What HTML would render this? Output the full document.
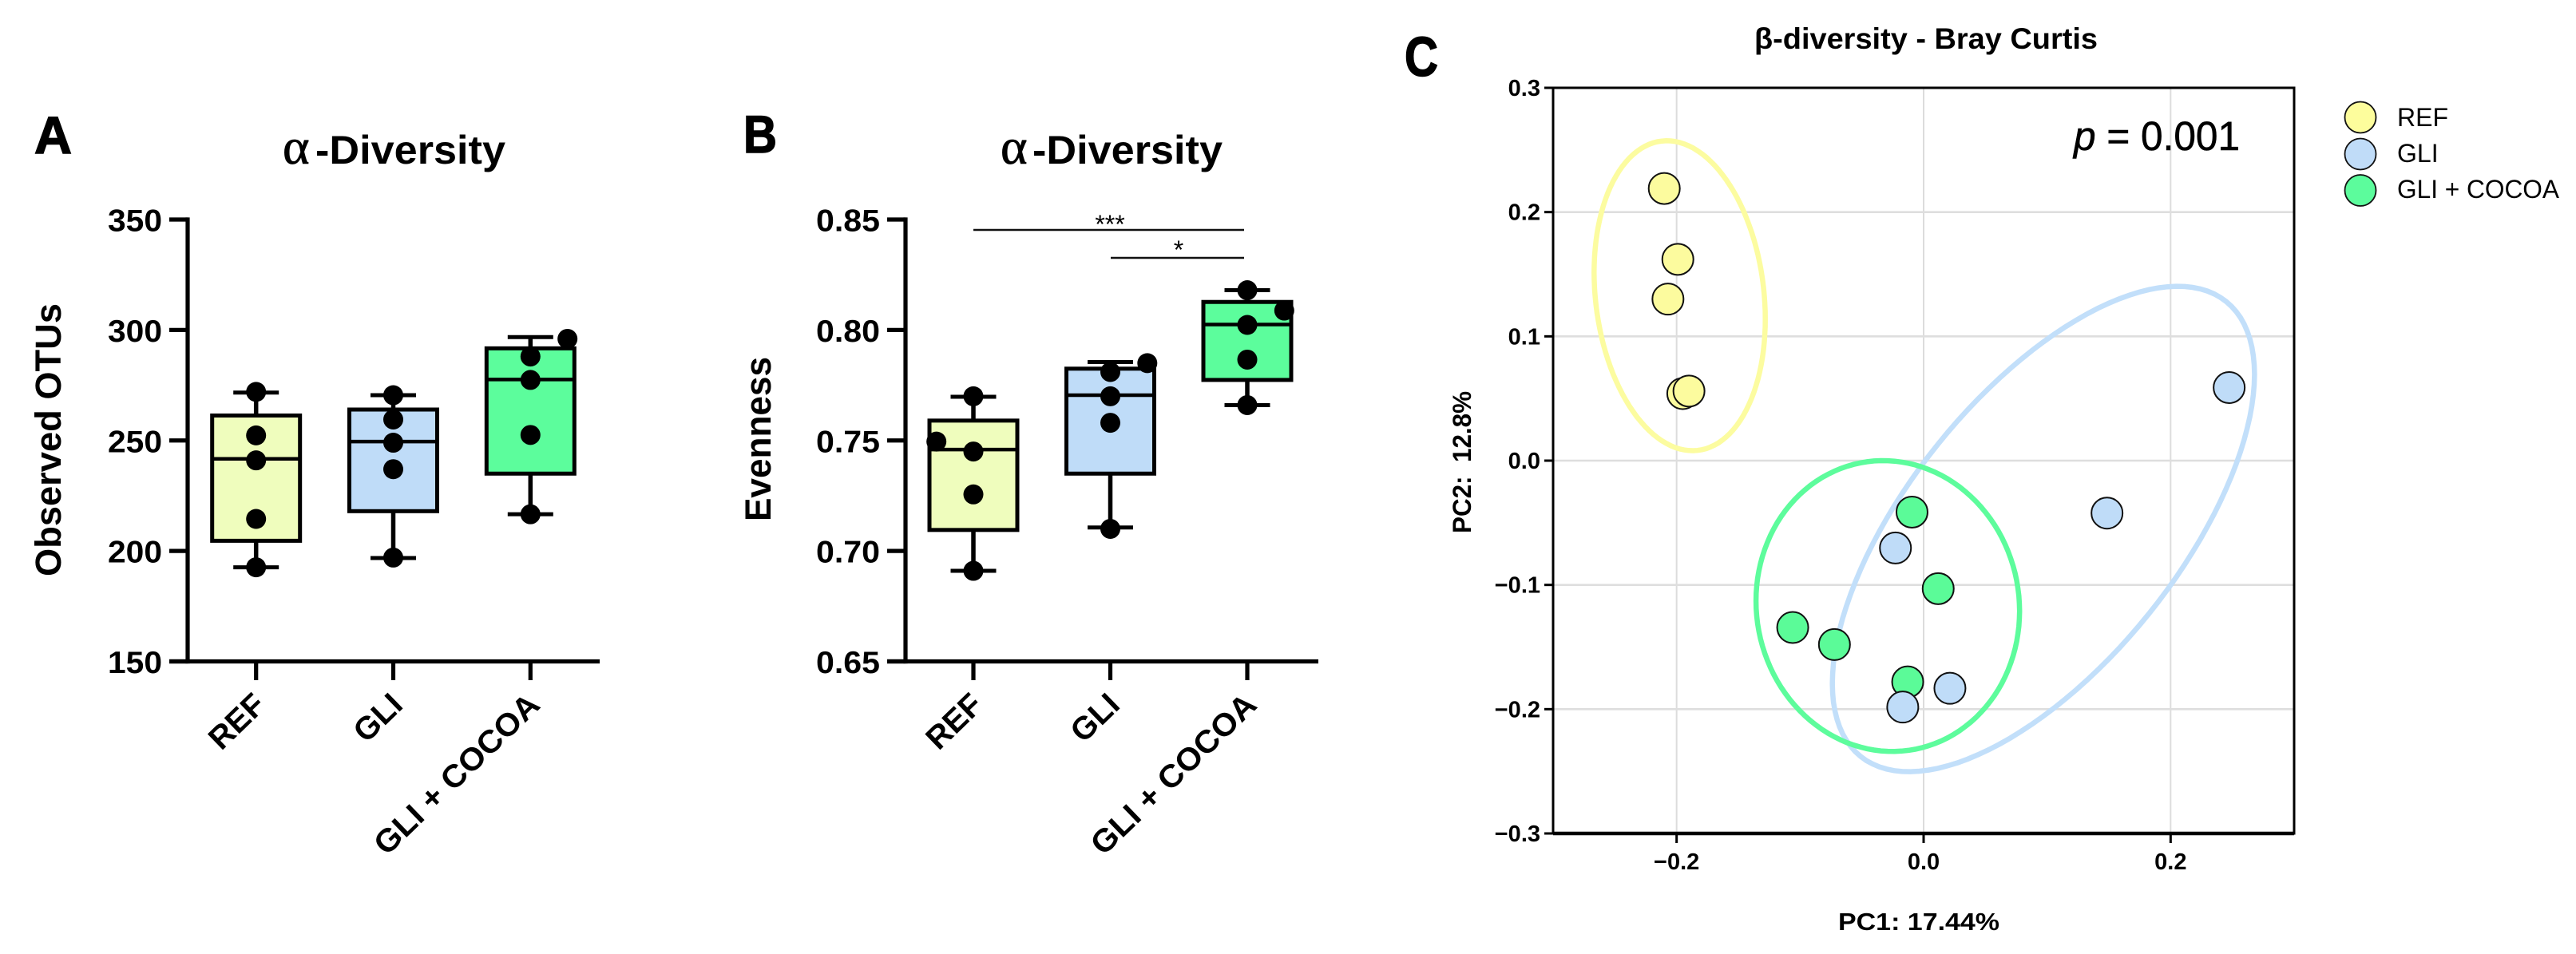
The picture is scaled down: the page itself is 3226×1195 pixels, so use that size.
<!DOCTYPE html>
<html lang="en">
<head>
<meta charset="utf-8">
<title>Alpha and beta diversity</title>
<style>
html,body{margin:0;padding:0;background:#fff;width:3226px;height:1195px;overflow:hidden}
svg{display:block;font-family:"Liberation Sans",sans-serif}
</style>
</head>
<body>
<svg id="figure" xmlns="http://www.w3.org/2000/svg" width="3226" height="1195" viewBox="0 0 3226 1195">
  <rect width="3226" height="1195" fill="#fff"/>

  <text x="43" y="192" font-size="66" font-weight="700" stroke="#000" stroke-width="1.5" textLength="47" lengthAdjust="spacingAndGlyphs">A</text>
  <text x="931" y="191" font-size="66" font-weight="700" stroke="#000" stroke-width="1.5" textLength="42" lengthAdjust="spacingAndGlyphs">B</text>
  <text x="1759" y="95" font-size="70" font-weight="700" stroke="#000" stroke-width="1.5" textLength="42" lengthAdjust="spacingAndGlyphs">C</text>

  <g>
    <text x="354" y="205" font-family="'Liberation Serif',serif" font-size="64" stroke="#000" stroke-width="0.8">α</text>
    <text x="395" y="205" font-size="50" font-weight="700" textLength="238" lengthAdjust="spacingAndGlyphs">-Diversity</text>
    <text transform="translate(76,722) rotate(-90)" font-size="45" font-weight="700" textLength="342" lengthAdjust="spacingAndGlyphs">Observed OTUs</text>
    <g id="panel-a-marks"></g>
  </g>

  <g>
    <text x="1253" y="205" font-family="'Liberation Serif',serif" font-size="64" stroke="#000" stroke-width="0.8">α</text>
    <text x="1293" y="205" font-size="50" font-weight="700" textLength="238" lengthAdjust="spacingAndGlyphs">-Diversity</text>
    <text transform="translate(965,653) rotate(-90)" font-size="45" font-weight="700" textLength="206" lengthAdjust="spacingAndGlyphs">Evenness</text>
    <g id="panel-b-marks"></g>
    <line x1="1219" y1="288" x2="1558" y2="288" stroke="#111" stroke-width="2.5"/>
    <text x="1390" y="292" font-size="32" text-anchor="middle">***</text>
    <line x1="1391" y1="323" x2="1558" y2="323" stroke="#111" stroke-width="2.5"/>
    <text x="1476" y="324" font-size="32" text-anchor="middle">*</text>
  </g>

  <g>
    <text x="2197" y="61" font-size="37" font-weight="700" textLength="430" lengthAdjust="spacingAndGlyphs">β-diversity - Bray Curtis</text>
    <g id="panel-c-marks"></g>
    <text x="2597" y="188" font-size="51" stroke="#000" stroke-width="0.6" textLength="208" lengthAdjust="spacingAndGlyphs"><tspan font-style="italic">p</tspan> = 0.001</text>
    <text x="2302" y="1165" font-size="31" font-weight="700" textLength="202" lengthAdjust="spacingAndGlyphs">PC1: 17.44%</text>
    <text transform="translate(1842,668) rotate(-90)" font-size="32" font-weight="700" textLength="178" lengthAdjust="spacingAndGlyphs">PC2:&#160;&#160;12.8%</text>
    <g>
      <g>
        <circle cx="2956" cy="147" r="19.5" fill="#fdfd9c" stroke="#111" stroke-width="1.8"/>
        <text x="3002" y="158" font-size="32">REF</text>
      </g>
      <g>
        <circle cx="2956" cy="193" r="19.5" fill="#c0dcf8" stroke="#111" stroke-width="1.8"/>
        <text x="3002" y="203" font-size="32">GLI</text>
      </g>
      <g>
        <circle cx="2956" cy="238.5" r="19.5" fill="#5cfc9c" stroke="#111" stroke-width="1.8"/>
        <text x="3002" y="248" font-size="32" textLength="203" lengthAdjust="spacingAndGlyphs">GLI + COCOA</text>
      </g>
    </g>
  </g>
</svg>

<script>
// ---- Shared categories ----
const groupNames = ['REF', 'GLI', 'GLI + COCOA'];
const groupSlugs = ['ref', 'gli', 'gli-cocoa'];
const boxFills = ['#effdbd', '#bfdcf8', '#5cfd9c'];

// ---- Panel A: Observed OTUs ----
const otuTicks = [150, 200, 250, 300, 350];
const otuTickLabels = ['150', '200', '250', '300', '350'];
const otuQ1 = [204.6, 218, 235];
const otuMedian = [241.7, 249.5, 277.6];
const otuQ3 = [261.3, 264, 291.7];
const otuMin = [192.6, 196.8, 216.6];
const otuMax = [271.7, 270.5, 296.8];
const otuPointsRef = [272, 252.3, 241, 214.5, 192.6];
const otuPointsGli = [270.5, 259.5, 249, 237, 197];
const otuPointsCocoa = [296, 288, 277.4, 252.5, 216.6];
// horizontal swarm shift, in category units
const otuJitterRef = [0, 0, 0, 0, 0];
const otuJitterGli = [0, 0, 0, 0, 0];
const otuJitterCocoa = [0.27, 0, 0, 0, 0];

// ---- Panel B: Evenness ----
const evenTicks = [0.65, 0.70, 0.75, 0.80, 0.85];
const evenTickLabels = ['0.65', '0.70', '0.75', '0.80', '0.85'];
const evenQ1 = [0.7095, 0.735, 0.7774];
const evenMedian = [0.7459, 0.7705, 0.8025];
const evenQ3 = [0.759, 0.7825, 0.8127];
const evenMin = [0.691, 0.7106, 0.766];
const evenMax = [0.7698, 0.7855, 0.818];
const evenPointsRef = [0.77, 0.7495, 0.745, 0.7256, 0.691];
const evenPointsGli = [0.785, 0.781, 0.77, 0.758, 0.71];
const evenPointsCocoa = [0.818, 0.8088, 0.8023, 0.7866, 0.766];
const evenJitterRef = [0, -0.27, 0, 0, 0];
const evenJitterGli = [0.27, 0, 0, 0, 0];
const evenJitterCocoa = [0, 0.27, 0, 0, 0];

// ---- Panel C: PCoA ----
const pcXTicks = [-0.2, 0, 0.2];
const pcXTickLabels = ['\u22120.2', '0.0', '0.2'];
const pcYTicks = [-0.3, -0.2, -0.1, 0, 0.1, 0.2, 0.3];
const pcYTickLabels = ['\u22120.3', '\u22120.2', '\u22120.1', '0.0', '0.1', '0.2', '0.3'];
const pc1Ref = [-0.195, -0.190, -0.210, -0.199, -0.207];
const pc2Ref = [0.054, 0.056, 0.219, 0.162, 0.130];
const pc1Gli = [0.1485, -0.0228, 0.0213, -0.0169, 0.2474];
const pc2Gli = [-0.0422, -0.0703, -0.1832, -0.1983, 0.0588];
const pc1Cocoa = [-0.0094, 0.0118, -0.106, -0.0722, -0.0129];
const pc2Cocoa = [-0.0414, -0.103, -0.1343, -0.148, -0.178];
// ellipses: centre, half-extents along each axis, correlation (data units)
const ellipseCx = [-0.1975, 0.097, -0.029];
const ellipseCy = [0.1327, -0.055, -0.117];
const ellipseSx = [0.0693, 0.1709, 0.1067];
const ellipseSy = [0.1247, 0.1953, 0.117];
const ellipseRho = [-0.15, 0.637, -0.035];

const SVGNS = 'http://www.w3.org/2000/svg';
function mk(parent, tag, attrs, txt) {
  const el = document.createElementNS(SVGNS, tag);
  for (const k in attrs) el.setAttribute(k, attrs[k]);
  if (txt !== undefined) el.textContent = txt;
  parent.appendChild(el);
  return el;
}

function drawBoxPanel(cfg) {
  const g = document.getElementById(cfg.id);
  const y = v => cfg.yBottom - (v - cfg.vMin) / (cfg.vMax - cfg.vMin) * (cfg.yBottom - cfg.yTop);
  const x = i => cfg.x0 + cfg.step * i;
  const lw = 5.5;
  const capHalf = 28.5;
  const boxHalf = 55;

  cfg.groups.forEach((s, i) => {
    const cx = x(i);
    const wg = mk(g, 'g', {});
    
    

    const wu = mk(wg, 'line', {x1: cx, x2: cx, y1: y(s.max), y2: y(s.q3), stroke: '#000', 'stroke-width': lw});
    
    
    const wl = mk(wg, 'line', {x1: cx, x2: cx, y1: y(s.q1), y2: y(s.min), stroke: '#000', 'stroke-width': lw});
    
    
    const cu = mk(wg, 'line', {x1: cx - capHalf, x2: cx + capHalf, y1: y(s.max), y2: y(s.max), stroke: '#000', 'stroke-width': 5});
    
    
    const cl = mk(wg, 'line', {x1: cx - capHalf, x2: cx + capHalf, y1: y(s.min), y2: y(s.min), stroke: '#000', 'stroke-width': 5});
    
    
    const b = mk(wg, 'rect', {x: cx - boxHalf, y: y(s.q3), width: boxHalf * 2, height: y(s.q1) - y(s.q3), fill: boxFills[i], stroke: '#000', 'stroke-width': 5});
    
    
    const m = mk(wg, 'line', {x1: cx - boxHalf, x2: cx + boxHalf, y1: y(s.median), y2: y(s.median), stroke: '#000', 'stroke-width': 4.5});
    
    

    s.points.forEach((p, j) => {
      const c = mk(wg, 'circle', {cx: cx + s.jitter[j] * cfg.step, cy: y(p), r: 12.5, fill: '#000'});
      
      
    });
  });

  const axes = mk(g, 'g', {});
  
  
  const ya = mk(axes, 'line', {x1: cfg.axisX, x2: cfg.axisX, y1: cfg.yTop - 2.6, y2: cfg.yBottom + 2.6, stroke: '#000', 'stroke-width': 5.2});
  
  
  const xa = mk(axes, 'line', {x1: cfg.axisX - 23, x2: cfg.axisEnd, y1: cfg.yBottom, y2: cfg.yBottom, stroke: '#000', 'stroke-width': 5.2});
  
  

  cfg.ticks.forEach((t, i) => {
    const tk = mk(axes, 'line', {x1: cfg.axisX - 23, x2: cfg.axisX, y1: y(t), y2: y(t), stroke: '#000', 'stroke-width': 5.2});
    
    
    const lb = mk(axes, 'text', {x: cfg.axisX - 32, y: y(t) + 14.5, 'font-size': 39, 'font-weight': 700, 'text-anchor': 'end', textLength: cfg.tickLen, lengthAdjust: 'spacingAndGlyphs'}, cfg.tickLabels[i]);
    
    
  });

  groupNames.forEach((name, i) => {
    const cx = x(i);
    const tk = mk(axes, 'line', {x1: cx, x2: cx, y1: cfg.yBottom, y2: cfg.yBottom + 23.5, stroke: '#000', 'stroke-width': 5.2});
    
    
    const labelAttrs = {transform: 'translate(' + (cx + 14) + ',' + (cfg.yBottom + 57) + ') rotate(-44)', 'font-size': 40, 'font-weight': 700, 'text-anchor': 'end'};
    if (name.length > 3) {
      labelAttrs.textLength = 270;
      labelAttrs.lengthAdjust = 'spacingAndGlyphs';
    }
    const lb = mk(axes, 'text', labelAttrs, name);
    
    
  });
}

drawBoxPanel({
  id: 'panel-a-marks', vMin: 150, vMax: 350, yTop: 275, yBottom: 828.5,
  x0: 320.7, step: 171.8, axisX: 235, axisEnd: 751, tickLen: 68,
  ticks: otuTicks, tickLabels: otuTickLabels,
  groups: [0, 1, 2].map(i => ({
    q1: otuQ1[i], median: otuMedian[i], q3: otuQ3[i], min: otuMin[i], max: otuMax[i],
    points: [otuPointsRef, otuPointsGli, otuPointsCocoa][i],
    jitter: [otuJitterRef, otuJitterGli, otuJitterCocoa][i]
  }))
});

drawBoxPanel({
  id: 'panel-b-marks', vMin: 0.65, vMax: 0.85, yTop: 275, yBottom: 828.5,
  x0: 1219, step: 171.5, axisX: 1134, axisEnd: 1651, tickLen: 80,
  ticks: evenTicks, tickLabels: evenTickLabels,
  groups: [0, 1, 2].map(i => ({
    q1: evenQ1[i], median: evenMedian[i], q3: evenQ3[i], min: evenMin[i], max: evenMax[i],
    points: [evenPointsRef, evenPointsGli, evenPointsCocoa][i],
    jitter: [evenJitterRef, evenJitterGli, evenJitterCocoa][i]
  }))
});

(function drawPcoa() {
  const g = document.getElementById('panel-c-marks');
  const L = 1945, R = 2873, T = 110, B = 1044;
  const px = v => L + (v + 0.3) / 0.6 * (R - L);
  const py = v => B - (v + 0.3) / 0.6 * (B - T);

  pcXTicks.forEach(t => {
    const l = mk(g, 'line', {x1: px(t), x2: px(t), y1: T, y2: B, stroke: '#dcdcdc', 'stroke-width': 2});
    
    
  });
  pcYTicks.forEach(t => {
    if (t === -0.3 || t === 0.3) return;
    const l = mk(g, 'line', {x1: L, x2: R, y1: py(t), y2: py(t), stroke: '#dedede', 'stroke-width': 2.6});
    
    
  });

  const ringColors = ['#fcfca0', '#c2dffa', '#5dfc9c'];
  ellipseCx.forEach((cx, i) => {
    const pts = [];
    const rho = ellipseRho[i];
    for (let k = 0; k < 120; k++) {
      const a = k / 120 * 2 * Math.PI;
      const ex = Math.cos(a);
      const ey = rho * Math.cos(a) + Math.sqrt(1 - rho * rho) * Math.sin(a);
      pts.push(px(cx + ellipseSx[i] * ex).toFixed(1) + ',' + py(ellipseCy[i] + ellipseSy[i] * ey).toFixed(1));
    }
    const e = mk(g, 'polygon', {points: pts.join(' '), fill: 'none', stroke: ringColors[i], 'stroke-width': 6.5});
    
    
  });

  const scatterFills = ['#fcfb9e', '#bfdcf8', '#5bfb98'];
  const drawOrder = [0, 2, 1];
  const xs = [pc1Ref, pc1Gli, pc1Cocoa];
  const ys = [pc2Ref, pc2Gli, pc2Cocoa];
  drawOrder.forEach(s => {
    xs[s].forEach((v, j) => {
      const c = mk(g, 'circle', {cx: px(v), cy: py(ys[s][j]), r: 19.5, fill: scatterFills[s], stroke: '#111', 'stroke-width': 2});
      
      
    });
  });

  const frame = mk(g, 'rect', {x: L, y: T, width: R - L, height: B - T, fill: 'none', stroke: '#000', 'stroke-width': 3});
  
  
  const bottom = mk(g, 'line', {x1: L, x2: R, y1: B, y2: B, stroke: '#000', 'stroke-width': 4.5});
  
  

  pcYTicks.forEach((t, i) => {
    const tk = mk(g, 'line', {x1: L - 11, x2: L, y1: py(t), y2: py(t), stroke: '#000', 'stroke-width': 3});
    
    
    const lb = mk(g, 'text', {x: L - 16, y: py(t) + 10, 'font-size': 29, 'font-weight': 700, 'text-anchor': 'end'}, pcYTickLabels[i]);
    
    
  });
  pcXTicks.forEach((t, i) => {
    const tk = mk(g, 'line', {x1: px(t), x2: px(t), y1: B, y2: B + 12, stroke: '#000', 'stroke-width': 3});
    
    
    const lb = mk(g, 'text', {x: px(t), y: 1089, 'font-size': 29, 'font-weight': 700, 'text-anchor': 'middle'}, pcXTickLabels[i]);
    
    
  });
})();
</script>
</body>
</html>
